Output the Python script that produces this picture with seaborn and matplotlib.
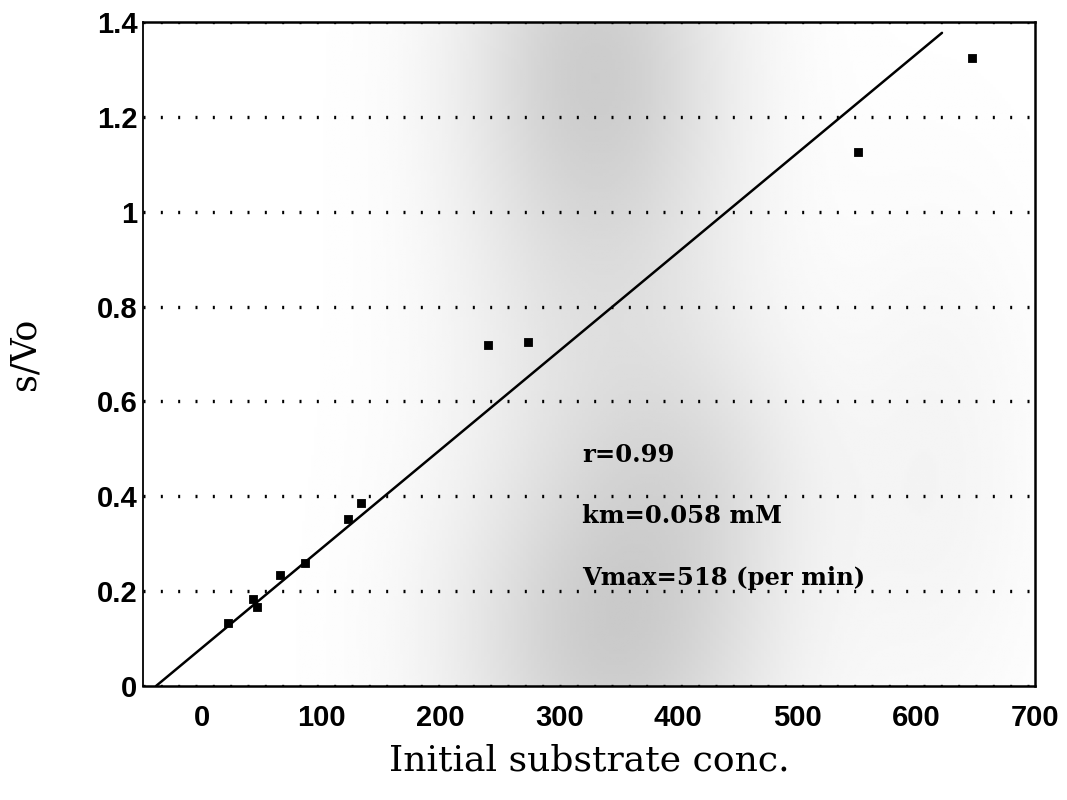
import numpy as np
import pandas as pd
import matplotlib
matplotlib.use("Agg")
import matplotlib.pyplot as plt
import seaborn as sns

# Initial substrate concentration and s/Vo measurements
substrate = [21.5, 42.5, 45.9, 65.2, 86.2, 122.4, 133.3, 240.0, 273.7, 551.0, 647.0]
s_over_v0 = [0.133, 0.183, 0.167, 0.234, 0.259, 0.352, 0.386, 0.719, 0.725, 1.126, 1.324]

# Fitted straight line (Hanes-Woolf plot): s/Vo = intercept + slope * s
fit_slope = 0.002084
fit_intercept = 0.0813
fit_x_ends = [-39.0, 621.8]

# Fit statistics printed on the chart
stat_lines = ["r=0.99", "km=0.058 mM", "Vmax=518 (per min)"]
stat_y = [0.487, 0.358, 0.228]
stat_x = 319

x_ticks = [0, 100, 200, 300, 400, 500, 600, 700]
y_ticks = [0, 0.2, 0.4, 0.6, 0.8, 1.0, 1.2, 1.4]
y_tick_labels = ["0", "0.2", "0.4", "0.6", "0.8", "1", "1.2", "1.4"]

sns.set_style("white")
plt.rcParams["font.family"] = ["Liberation Sans", "DejaVu Sans"]
plt.rcParams["text.color"] = "black"
plt.rcParams["axes.labelcolor"] = "black"
SERIF = ["DejaVu Serif", "Liberation Serif"]

fig = plt.figure(figsize=(10.67, 8), dpi=100)
ax = fig.add_axes([0.134, 0.1425, 0.836, 0.83])

x_lo, x_hi = -50, 700
y_lo, y_hi = 0, 1.4
ax.set_xlim(x_lo, x_hi)
ax.set_ylim(y_lo, y_hi)

# Light grey mottling of the printed page behind the plot
gx = np.linspace(x_lo, x_hi, 300)
gy = np.linspace(y_lo, y_hi, 240)
GX, GY = np.meshgrid(gx, gy)
shade = np.zeros_like(GX)
for cx, cy, sx, sy, amp in [
    (330, 1.32, 80, 0.32, 0.19),
    (345, 0.08, 95, 0.28, 0.19),
    (340, 0.70, 95, 0.30, 0.07),
    (420, 0.45, 70, 0.20, 0.06),
    (620, 0.45, 60, 0.40, 0.04),
]:
    shade += amp * np.exp(-((GX - cx) ** 2 / (2 * sx ** 2) + (GY - cy) ** 2 / (2 * sy ** 2)))
shade = np.clip(shade, 0, 0.21)
ax.imshow(1 - shade, extent=(x_lo, x_hi, y_lo, y_hi), origin="lower",
          aspect="auto", cmap="gray", vmin=0, vmax=1, zorder=0,
          interpolation="bilinear")

# Dotted horizontal grid
ax.set_axisbelow(True)
ax.yaxis.grid(True, color="black", linewidth=2.4, linestyle=(0, (0.6, 4.6)))
ax.xaxis.grid(False)

# Fitted line
line_df = pd.DataFrame({
    "s": fit_x_ends,
    "s_v0": [fit_intercept + fit_slope * v for v in fit_x_ends],
})
sns.lineplot(data=line_df, x="s", y="s_v0", ax=ax, color="black",
             linewidth=1.8, zorder=3)

# Data points
pts = pd.DataFrame({"s": substrate, "s_v0": s_over_v0})
sns.scatterplot(data=pts, x="s", y="s_v0", ax=ax, color="black", marker="s",
                s=38, edgecolor="black", linewidth=0.6, zorder=4)

for txt, yv in zip(stat_lines, stat_y):
    ax.text(stat_x, yv, txt, fontsize=17.5, fontweight="bold", family=SERIF,
            ha="left", va="center", color="black", zorder=5)

ax.set_xticks(x_ticks)
ax.set_xticklabels([str(v) for v in x_ticks])
ax.set_yticks(y_ticks)
ax.set_yticklabels(y_tick_labels)
ax.tick_params(axis="both", length=0, labelsize=21, colors="black")
ax.tick_params(axis="x", pad=13)
ax.tick_params(axis="y", pad=4)
for lab in ax.get_xticklabels() + ax.get_yticklabels():
    lab.set_fontweight("bold")

ax.set_xlabel("Initial substrate conc.", fontsize=26, family=SERIF,
              labelpad=8, color="black")
ax.set_ylabel("s/Vo", fontsize=25, family=SERIF, labelpad=40, color="black")

for side, sp in ax.spines.items():
    sp.set_visible(True)
    sp.set_color("black")
    sp.set_linewidth(1.8)
ax.spines["left"].set_linewidth(1.3)

fig.savefig("out.png", dpi=100)
